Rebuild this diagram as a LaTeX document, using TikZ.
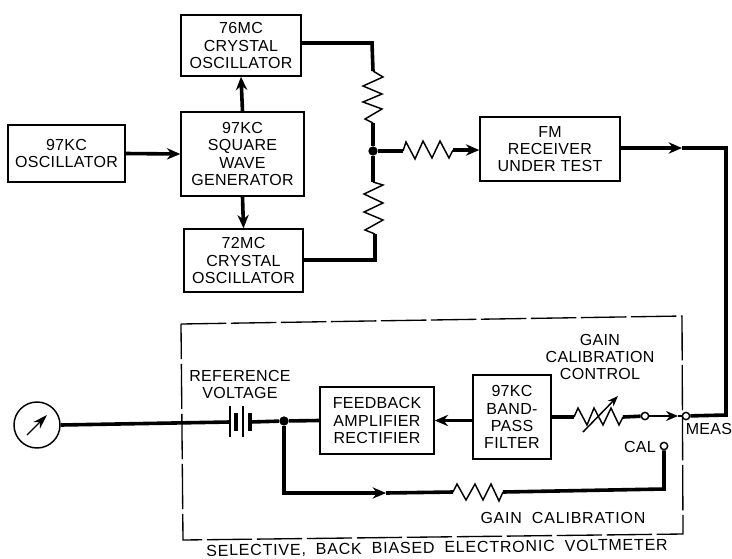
\documentclass[tikz,border=0pt]{standalone}
\usepackage{fontspec}
\setmainfont[LetterSpace=2]{Liberation Sans}
\newfontfamily\widelabel[LetterSpace=5,WordSpace=1.9]{Liberation Sans}
\usetikzlibrary{arrows.meta}
\tikzset{
  blk/.style 2 args={draw=black,line width=1.1pt,fill=white,align=center,inner sep=0pt,minimum width=#1*0.75pt,minimum height=#2*0.75pt,font=\fontsize{12}{12.8}\selectfont},
  lbl/.style={align=center,inner sep=0pt,font=\fontsize{12}{12.8}\selectfont},
  wire/.style={line width=2.7pt,line join=miter},
  thinw/.style={line width=1.1pt,line join=miter},
  arr/.style={-{Stealth[length=10pt,width=8.5pt]}},
  term/.style={circle,draw=black,fill=white,line width=1.1pt,minimum size=5.5pt,inner sep=0pt},
  dot/.style={circle,fill=black,minimum size=7pt,inner sep=0pt}
}
\begin{document}
\begin{tikzpicture}[x=0.75pt,y=-0.75pt]
\useasboundingbox (0,0) rectangle (732,558);
% dashed enclosure
\draw[line width=1pt,dash pattern=on 34pt off 3.5pt] (181,324) -- (682,316) -- (683,534) -- (183,540) -- cycle;
% blocks
\node[blk={117}{57}] (osc97) at (66.5,153.5) {97KC\\OSCILLATOR};
\node[blk={123}{84}] (sq) at (242.5,154) {97KC\\SQUARE\\WAVE\\GENERATOR};
\node[blk={120}{61}] (osc76) at (241,45.5) {76MC\\CRYSTAL\\OSCILLATOR};
\node[blk={119}{63}] (osc72) at (243.5,260.5) {72MC\\CRYSTAL\\OSCILLATOR};
\node[blk={140}{64}] (fm) at (550,149) {FM\\RECEIVER\\UNDER TEST};
\node[blk={114}{67}] (fb) at (377,420.5) {FEEDBACK\\AMPLIFIER\\RECTIFIER};
\node[blk={78}{84}] (bp) at (512,417) {97KC\\BAND-\\PASS\\FILTER};
\node[circle,draw=black,line width=1.1pt,minimum size=34.5pt,inner sep=0pt] (meter) at (37,425) {};
% junctions and terminals
\node[dot] (j1) at (373,151) {};
\node[dot] (j2) at (284,421) {};
\node[term] (tmeas) at (686,416) {};
\node[term] (tg) at (645,416) {};
\node[term] (tcal) at (664,446) {};
% free coordinates
\coordinate (c76) at (372,43);
\coordinate (r1a) at (373,71);
\coordinate (r1b) at (373,123);
\coordinate (r2a) at (373,182);
\coordinate (r2b) at (375,234);
\coordinate (c72) at (375,260);
\coordinate (r3a) at (403,151);
\coordinate (r3b) at (453,150);
\coordinate (afm) at (682,148);
\coordinate (cr) at (726,148);
\coordinate (cr2) at (726,415);
\coordinate (ra) at (574,417);
\coordinate (rb) at (623,417);
\coordinate (ameas) at (678,416);
\coordinate (b1) at (230,422);
\coordinate (b2) at (250,422);
\coordinate (c1) at (284,493);
\coordinate (a1) at (386,493);
\coordinate (r4a) at (453,492);
\coordinate (r4b) at (503,492);
\coordinate (c2) at (664,489);
% top connectors
\draw[wire,arr] (osc97.east) -- (sq.west);
\draw[wire,arr] (sq.north) -- (osc76.south);
\draw[wire,arr] (sq.south) -- (osc72.north);
\draw[wire] (osc76.east |- c76) -- (c76) -- (r1a);
\draw[wire] (osc72.east |- c72) -- (c72) -- (r2b);
\draw[wire] (r1b) -- (j1) -- (r2a);
\draw[wire] (j1) -- (r3a);
\draw[wire,arr] (r3b) -- (fm.west |- r3b);
% resistors
\draw[thinw] (r1a) -- (383,77) -- (363,86) -- (382,94) -- (363,102) -- (382,109) -- (365,119) -- (r1b);
\draw[thinw] (r2a) -- (383,185) -- (364,194) -- (383,203) -- (364,212) -- (383,220) -- (365,230) -- (r2b);
\draw[thinw] (r3a) -- (406,142) -- (415,159) -- (423,141) -- (432,158) -- (440,141) -- (449,158) -- (r3b);
\draw[thinw] (r4a) -- (457,484) -- (466,500) -- (475,484) -- (483,500) -- (491,484) -- (499,501) -- (r4b);
\draw[thinw] (ra) -- (578,408) -- (587,425) -- (594,408) -- (603,425) -- (611,408) -- (619,425) -- (rb);
\draw[thinw,-{Stealth[length=8pt,width=6pt]}] (583,432) -- (618,396);
% output line
\draw[wire,arr] (fm.east |- afm) -- (afm);
\draw[wire] (afm) -- (cr) -- (cr2) -- (tmeas);
% lower signal path
\draw[thinw,-{Stealth[length=9pt,width=7.5pt]}] (tg) -- (ameas);
\draw[thinw] (ameas) -- (tmeas);
\draw[wire] (rb) -- (tg);
\draw[wire] (bp.east |- ra) -- (ra);
\draw[wire,arr] (bp.west |- fb.east) -- (fb.east);
\draw[wire] (fb.west) -- (j2) -- (b2);
\draw[wire] (meter.east) -- (b1);
\draw[wire,arr] (j2) -- (c1) -- (a1);
\draw[wire] (a1) -- (r4a);
\draw[wire] (r4b) -- (c2) -- (tcal);
% battery
\draw[line width=.9pt] (230,406) -- (230,437);
\draw[line width=3.2pt] (236,413) -- (236,431);
\draw[line width=.9pt] (243,406) -- (243,437);
\draw[line width=3.2pt] (250,413) -- (250,431);
% meter needle
\draw[line width=.9pt,-{Stealth[length=11pt,width=7pt]}] (27,435) -- (47,415);
% labels
\node[lbl] (lref) at (240,384.5) {REFERENCE\\VOLTAGE};
\node[lbl] (lctrl) at (600,357) {GAIN\\CALIBRATION\\CONTROL};
\node[lbl] (lcal) at (640,447) {CAL};
\node[lbl] (lmeas) at (709,429) {MEAS};
\node[lbl] (lgain) at (563,518) {\widelabel GAIN CALIBRATION};
\node[lbl,rotate=0.8] (ltitle) at (437,548.5) {\widelabel SELECTIVE, BACK BIASED ELECTRONIC VOLTMETER};
\end{tikzpicture}
\end{document}
